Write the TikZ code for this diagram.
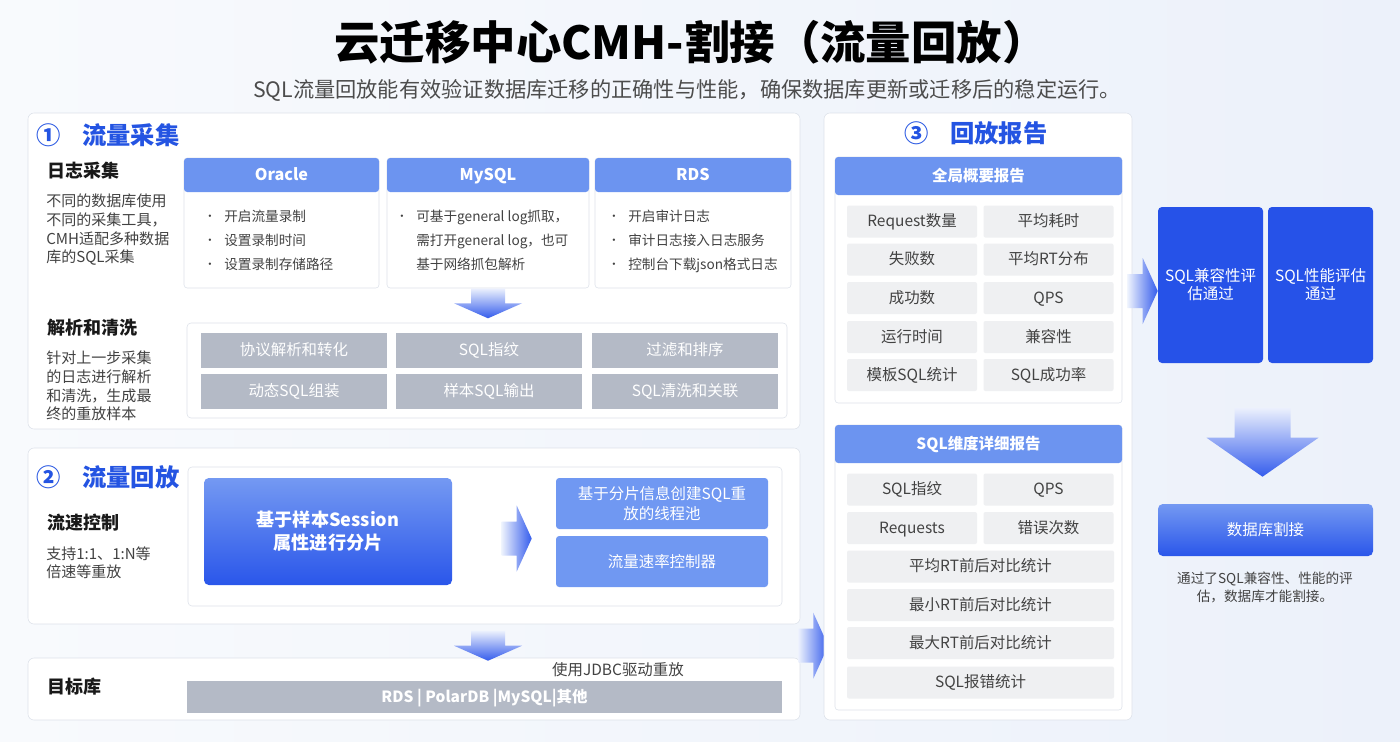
\documentclass[tikz,border=0pt]{standalone}
\usepackage{fontspec}
\setmainfont{Noto Sans CJK SC}
\usetikzlibrary{positioning,calc}

\definecolor{bgl}{RGB}{248,250,253}
\definecolor{bgr}{RGB}{236,241,250}
\definecolor{pline}{RGB}{221,226,234}
\definecolor{hdrblue}{RGB}{108,148,240}
\definecolor{headblue}{RGB}{36,84,226}
\definecolor{deepblue}{RGB}{38,82,232}
\definecolor{lightblue}{RGB}{112,152,242}
\definecolor{greybox}{RGB}{180,186,198}
\definecolor{cellgrey}{RGB}{239,240,242}
\definecolor{txtgrey}{RGB}{66,66,66}
\definecolor{arrlight}{RGB}{236,241,253}
\definecolor{arrblue}{RGB}{52,92,236}
\definecolor{gradtop}{RGB}{116,153,242}
\definecolor{gradbot}{RGB}{42,86,234}

\newcommand{\bdot}{\makebox[5mm][l]{\raisebox{1pt}{\fontsize{8}{8}\selectfont •}}}
\newcommand{\bskip}{\makebox[5mm]{}}

\begin{document}
\begin{tikzpicture}[
  x=0.25mm, y=-0.25mm,
  font=\fontsize{11}{13}\selectfont,
  wh/.style 2 args={minimum width=#1*0.25mm, minimum height=#2*0.25mm},
  oneline/.style={text height=0.86em, text depth=0.1em},
  panel/.style={draw=pline, fill=white, rounded corners=1.5mm, inner sep=0pt},
  inbox/.style={draw=pline, fill=white, rounded corners=1mm, inner sep=0pt},
  card/.style={draw=pline, fill=white, rounded corners=0.8mm, inner sep=0pt},
  hdr/.style={fill=hdrblue, text=white, rounded corners=0.8mm, inner sep=0pt, oneline,
              font=\bfseries\fontsize{11.5}{13}\selectfont},
  gbox/.style={fill=greybox, text=white, inner sep=0pt, oneline},
  cell/.style={fill=cellgrey, text=txtgrey, rounded corners=0.5mm, inner sep=0pt, oneline},
  lbox/.style={fill=lightblue, text=white, rounded corners=0.8mm, inner sep=0pt,
               align=center, font=\fontsize{11}{14.2}\selectfont},
  dbox/.style={fill=deepblue, text=white, rounded corners=1mm, inner sep=0pt,
               align=center, font=\fontsize{11}{12.8}\selectfont},
  gradbox/.style={top color=gradtop, bottom color=gradbot, text=white,
                  rounded corners=1.2mm, inner sep=0pt, align=center},
  sechead/.style={text=headblue, inner sep=0pt, font=\bfseries\fontsize{17.3}{20}\selectfont},
  subhead/.style={anchor=west, inner sep=0pt, text=black!90,
                  font=\bfseries\fontsize{12.8}{15}\selectfont},
  desc/.style={anchor=north west, align=left, inner sep=0pt, text=txtgrey,
               font=\fontsize{10.7}{13.2}\selectfont},
  blist/.style={anchor=north west, align=left, inner sep=0pt, text=txtgrey,
                font=\fontsize{9.7}{17.1}\selectfont},
  dnarr/.pic={\shade[top color=arrlight, bottom color=arrblue]
    (-17,-30) -- (17,-30) -- (17,-15) -- (34,-15) -- (0,0) -- (-34,-15) -- (-17,-15) -- cycle;},
  rtarr/.pic={\shade[left color=arrlight, right color=arrblue]
    (-30,-17) -- (-15,-17) -- (-15,-33) -- (0,0) -- (-15,33) -- (-15,17) -- (-30,17) -- cycle;},
  bigdn/.pic={\shade[top color=arrlight, bottom color=arrblue]
    (-28,-69) -- (28,-69) -- (28,-39) -- (56,-39) -- (0,0) -- (-56,-39) -- (-28,-39) -- cycle;}]

% background
\useasboundingbox (0,0) rectangle (1400,741);
\shade[left color=bgl, right color=bgr] (0,0) rectangle (1400,741);

% title
\node[font=\bfseries\fontsize{32.3}{36}\selectfont] (title) at (691,42)
  {云迁移中心CMH-割接（流量回放）};
\node[text=black!70, font=\fontsize{15.1}{18}\selectfont] (subtitle) at (687,90)
  {SQL流量回放能有效验证数据库迁移的正确性与性能，确保数据库更新或迁移后的稳定运行。};

% (1) capture panel
\node[panel, wh={772}{316}] (cpanel) at (414,271) {};
\node[sechead] (cnum) at (49,135) {①};
\node[sechead, anchor=west] (ctitle) at (82,135) {流量采集};
\node[subhead] (logcap) at (47,171) {日志采集};
\node[desc] (logdesc) at (46,194)
  {不同的数据库使用\\不同的采集工具，\\CMH适配多种数据\\库的SQL采集};

\node[card, wh={195}{130}] (oracle) at (281.5,223) {};
\node[hdr, wh={195}{34}] (oracleh) at (281.5,175) {Oracle};
\node[blist] (oraclel) at (204,210)
  {\bdot 开启流量录制\\ \bdot 设置录制时间\\ \bdot 设置录制存储路径};

\node[card, wh={202}{130}] (mysql) at (488,223) {};
\node[hdr, wh={202}{34}] (mysqlh) at (488,175) {MySQL};
\node[blist] (mysqll) at (396,210)
  {\bdot 可基于general log抓取，\\ \bskip 需打开general log，也可\\ \bskip 基于网络抓包解析};

\node[card, wh={196}{130}] (rds) at (693,223) {};
\node[hdr, wh={196}{34}] (rdsh) at (693,175) {RDS};
\node[blist] (rdsl) at (608,210)
  {\bdot 开启审计日志\\ \bdot 审计日志接入日志服务\\ \bdot 控制台下载json格式日志};

\pic at ($(mysql.south)+(0,30)$) {dnarr};

\node[subhead] (parse) at (47,328) {解析和清洗};
\node[desc] (parsedesc) at (46,351)
  {针对上一步采集\\的日志进行解析\\和清洗，生成最\\终的重放样本};
\node[inbox, wh={600}{95}] (pinner) at (487,370.5) {};
\node[gbox, wh={186}{35}] (proto) at (294,350.5) {协议解析和转化};
\node[gbox, wh={186}{35}] (fprint) at (489,350.5) {SQL指纹};
\node[gbox, wh={186}{35}] (filt) at (685,350.5) {过滤和排序};
\node[gbox, wh={186}{35}] (dyn) at (294,391.5) {动态SQL组装};
\node[gbox, wh={186}{35}] (sample) at (489,391.5) {样本SQL输出};
\node[gbox, wh={186}{35}] (clean) at (685,391.5) {SQL清洗和关联};

% (2) replay panel
\node[panel, wh={772}{176}] (rpanel) at (414,536) {};
\node[sechead] (rnum) at (49,477) {②};
\node[sechead, anchor=west] (rtitle) at (82,477) {流量回放};
\node[subhead] (speed) at (47,523) {流速控制};
\node[desc] (speeddesc) at (46,546) {支持1:1、1:N等\\倍速等重放};
\node[inbox, wh={594}{139}] (rinner) at (485,536.5) {};
\node[gradbox, wh={248}{107}, font=\bfseries\fontsize{12.9}{16.4}\selectfont] (shard)
  at (328,531.5) {基于样本Session\\属性进行分片};
\node[lbox, wh={212}{51}] (pool) at (662,503.5) {基于分片信息创建SQL重\\放的线程池};
\node[lbox, wh={212}{51}] (rate) at (662,561.5) {流量速率控制器};
\pic at ($(shard.east -| pool.west)+(-24,7)$) {rtarr};

% target db
\node[panel, wh={772}{62}] (tgpanel) at (414,689) {};
\pic at ($(mysql.south |- tgpanel.north)+(0,3)$) {dnarr};
\node[subhead] (tglab) at (47,687) {目标库};
\node[gbox, wh={595}{32}, font=\bfseries\fontsize{11}{13}\selectfont] (dbs) at (484.5,697)
  {RDS | PolarDB |MySQL|其他};
\node[text=txtgrey, inner sep=0pt] (jdbc) at (618,670) {使用JDBC驱动重放};
\pic at ($(tgpanel.north east)+(28,-12)$) {rtarr};

% (3) report panel
\node[panel, wh={308}{607}] (reppanel) at (978,416.5) {};
\node[sechead] (pnum) at (917,133) {③};
\node[sechead, anchor=west] (ptitle) at (950,133) {回放报告};

\node[card, wh={287}{246}] (glob) at (978.5,280) {};
\node[hdr, wh={287}{38}, font=\bfseries\fontsize{11}{13}\selectfont] (globh) at (978.5,176) {全局概要报告};
\node[cell, wh={130}{32}] (creq) at (912,221.5) {Request数量};
\node[cell, wh={130}{32}] (cavg) at (1048.5,221.5) {平均耗时};
\node[cell, wh={130}{32}] (cfail) at (912,259.5) {失败数};
\node[cell, wh={130}{32}] (crtd) at (1048.5,259.5) {平均RT分布};
\node[cell, wh={130}{32}] (cok) at (912,298) {成功数};
\node[cell, wh={130}{32}] (cqps) at (1048.5,298) {QPS};
\node[cell, wh={130}{32}] (crun) at (912,337) {运行时间};
\node[cell, wh={130}{32}] (ccomp) at (1048.5,337) {兼容性};
\node[cell, wh={130}{32}] (ctpl) at (912,375) {模板SQL统计};
\node[cell, wh={130}{32}] (crate) at (1048.5,375) {SQL成功率};

\node[card, wh={287}{285}] (det) at (978.5,567.5) {};
\node[hdr, wh={287}{38}, font=\bfseries\fontsize{11}{13}\selectfont] (deth) at (978.5,444) {SQL维度详细报告};
\node[cell, wh={130}{32}] (dfp) at (912,489.5) {SQL指纹};
\node[cell, wh={130}{32}] (dqps) at (1048.5,489.5) {QPS};
\node[cell, wh={130}{32}] (dreq) at (912,528) {Requests};
\node[cell, wh={130}{32}] (derr) at (1048.5,528) {错误次数};
\node[cell, wh={267}{32}] (davg) at (980.5,566.5) {平均RT前后对比统计};
\node[cell, wh={267}{32}] (dmin) at (980.5,605) {最小RT前后对比统计};
\node[cell, wh={267}{32}] (dmax) at (980.5,643) {最大RT前后对比统计};
\node[cell, wh={267}{32}] (derrs) at (980.5,682.5) {SQL报错统计};

% verdict and cutover
\node[dbox, wh={105}{156}] (compat) at (1210.5,285) {SQL兼容性评\\估通过};
\node[dbox, wh={105}{156}] (perf) at (1320.5,285) {SQL性能评估\\通过};
\pic at ($(compat.west)+(0,6)$) {rtarr};
\node[gradbox, wh={215}{52}] (cutover) at (1265.5,530) {数据库割接};
\pic at ($(cutover.north)+(-3,-27)$) {bigdn};
\node[text=txtgrey, align=center, inner sep=0pt,
      font=\fontsize{9.7}{12.8}\selectfont] (note) at (1265,587)
  {通过了SQL兼容性、性能的评\\估，数据库才能割接。};
\end{tikzpicture}
\end{document}
